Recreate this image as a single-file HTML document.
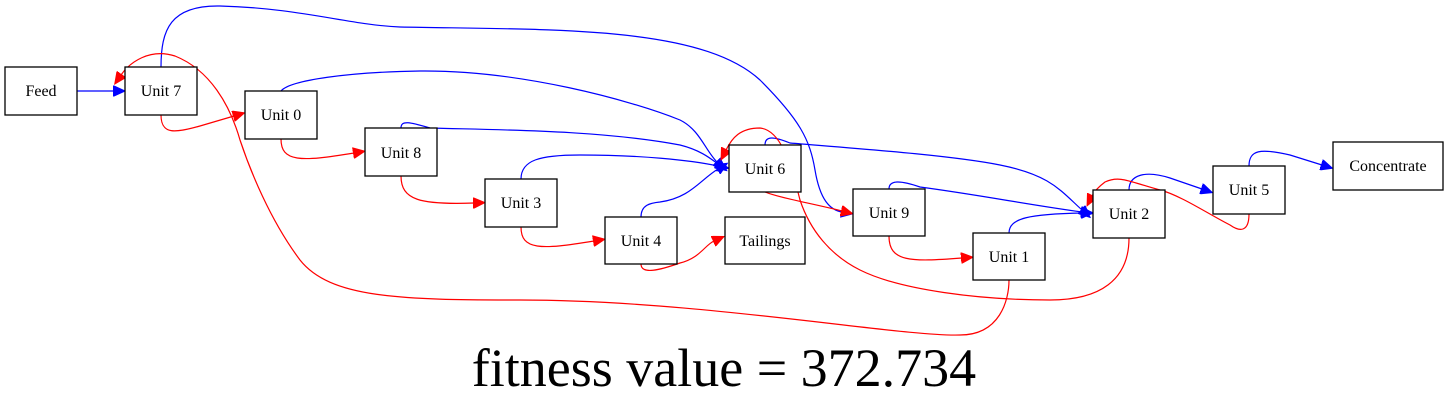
<!DOCTYPE html>
<html><head><meta charset="utf-8"><style>
html,body{margin:0;padding:0;background:#fff;}
svg{display:block;font-family:"Liberation Serif",serif;}
</style></head><body>
<svg width="1448" height="411" viewBox="0 0 1448 411">
<defs>
<marker id="ab" markerUnits="userSpaceOnUse" markerWidth="13" markerHeight="11" refX="1" refY="5.5" orient="auto"><path d="M0,0 L12,5.5 L0,11 Z" fill="#00f" stroke="#00f"/></marker>
<marker id="ar" markerUnits="userSpaceOnUse" markerWidth="13" markerHeight="11" refX="1" refY="5.5" orient="auto"><path d="M0,0 L12,5.5 L0,11 Z" fill="#f00" stroke="#f00"/></marker>
</defs>
<g fill="none" stroke="#00f" stroke-width="1.2" marker-end="url(#ab)">
<path d="M77,91 L114,91"/>
<path d="M161,67 C161,30 170,5 220,6 C300,8 350,25 400,27 C550,30 700,25 760,80 C800,120 810,140 815,170 C820,200 830,210 842,212"/>
<path d="M281,91 C290,80 350,72 420,71 C520,70 630,100 680,120 C700,130 705,150 717,162"/>
<path d="M401,128 C401,120 410,122 430,128 C500,130 600,130 680,145 C700,150 710,158 718,164"/>
<path d="M521,179 C521,160 540,155 580,155 C640,155 690,160 718,166"/>
<path d="M641,217 C641,205 650,203 660,202 C690,198 700,180 718,169"/>
<path d="M765,145 C765,135 775,137 790,143 C850,148 950,155 1000,165 C1050,175 1060,190 1082,210"/>
<path d="M889,189 C889,180 900,180 920,187 C980,195 1030,205 1082,212"/>
<path d="M1009,233 C1009,218 1030,214 1082,213"/>
<path d="M1129,190 C1129,175 1145,170 1170,178 L1202,189"/>
<path d="M1249,166 C1249,150 1260,148 1290,155 L1322,165"/>
</g>
<g fill="none" stroke="#f00" stroke-width="1.2" marker-end="url(#ar)">
<path d="M161,115 C161,135 175,133 200,126 L234,116"/>
<path d="M281,139 C281,162 300,162 354,153"/>
<path d="M401,176 C401,200 420,205 474,203"/>
<path d="M521,227 C521,250 540,250 594,241"/>
<path d="M641,264 C641,275 660,270 680,263 C700,258 705,245 714,241"/>
<path d="M765,192 C780,198 810,203 842,211"/>
<path d="M889,236 C889,262 910,262 962,258"/>
<path d="M1009,280 C1009,300 1000,335 960,335 C900,337 700,300 520,300 C400,300 330,298 300,260 C270,220 250,170 240,140 C230,105 210,70 175,56 C150,48 130,62 121,75"/>
<path d="M1129,238 C1129,280 1100,300 1050,300 C980,300 900,290 860,270 C830,255 810,230 800,200 C790,160 780,130 760,128 C740,128 732,138 726,150"/>
<path d="M1249,214 C1249,232 1240,232 1230,225 C1210,215 1180,195 1160,190 C1130,182 1120,175 1105,182 C1097,188 1094,192 1092,196"/>
</g>
<g fill="#fff" stroke="#000" stroke-width="1.3" font-size="16" text-anchor="middle">
<g><rect x="5" y="67" width="72" height="48"/><text x="41" y="96" stroke="none" fill="#000">Feed</text></g>
<g><rect x="125" y="67" width="72" height="48"/><text x="161" y="96" stroke="none" fill="#000">Unit 7</text></g>
<g><rect x="245" y="91" width="72" height="48"/><text x="281" y="120" stroke="none" fill="#000">Unit 0</text></g>
<g><rect x="365" y="128" width="72" height="48"/><text x="401" y="158" stroke="none" fill="#000">Unit 8</text></g>
<g><rect x="485" y="179" width="72" height="48"/><text x="521" y="208" stroke="none" fill="#000">Unit 3</text></g>
<g><rect x="605" y="217" width="72" height="47"/><text x="641" y="246" stroke="none" fill="#000">Unit 4</text></g>
<g><rect x="725" y="217" width="80" height="47"/><text x="765" y="246" stroke="none" fill="#000">Tailings</text></g>
<g><rect x="729" y="145" width="72" height="47"/><text x="765" y="174" stroke="none" fill="#000">Unit 6</text></g>
<g><rect x="853" y="189" width="72" height="47"/><text x="889" y="218" stroke="none" fill="#000">Unit 9</text></g>
<g><rect x="973" y="233" width="72" height="47"/><text x="1009" y="262" stroke="none" fill="#000">Unit 1</text></g>
<g><rect x="1093" y="190" width="72" height="48"/><text x="1129" y="219" stroke="none" fill="#000">Unit 2</text></g>
<g><rect x="1213" y="166" width="72" height="48"/><text x="1249" y="195" stroke="none" fill="#000">Unit 5</text></g>
<g><rect x="1333" y="142" width="110" height="48"/><text x="1388" y="171" stroke="none" fill="#000">Concentrate</text></g>
</g>
<text x="724" y="386" font-size="54" text-anchor="middle" fill="#000">fitness value = 372.734</text>
</svg>
</body></html>
